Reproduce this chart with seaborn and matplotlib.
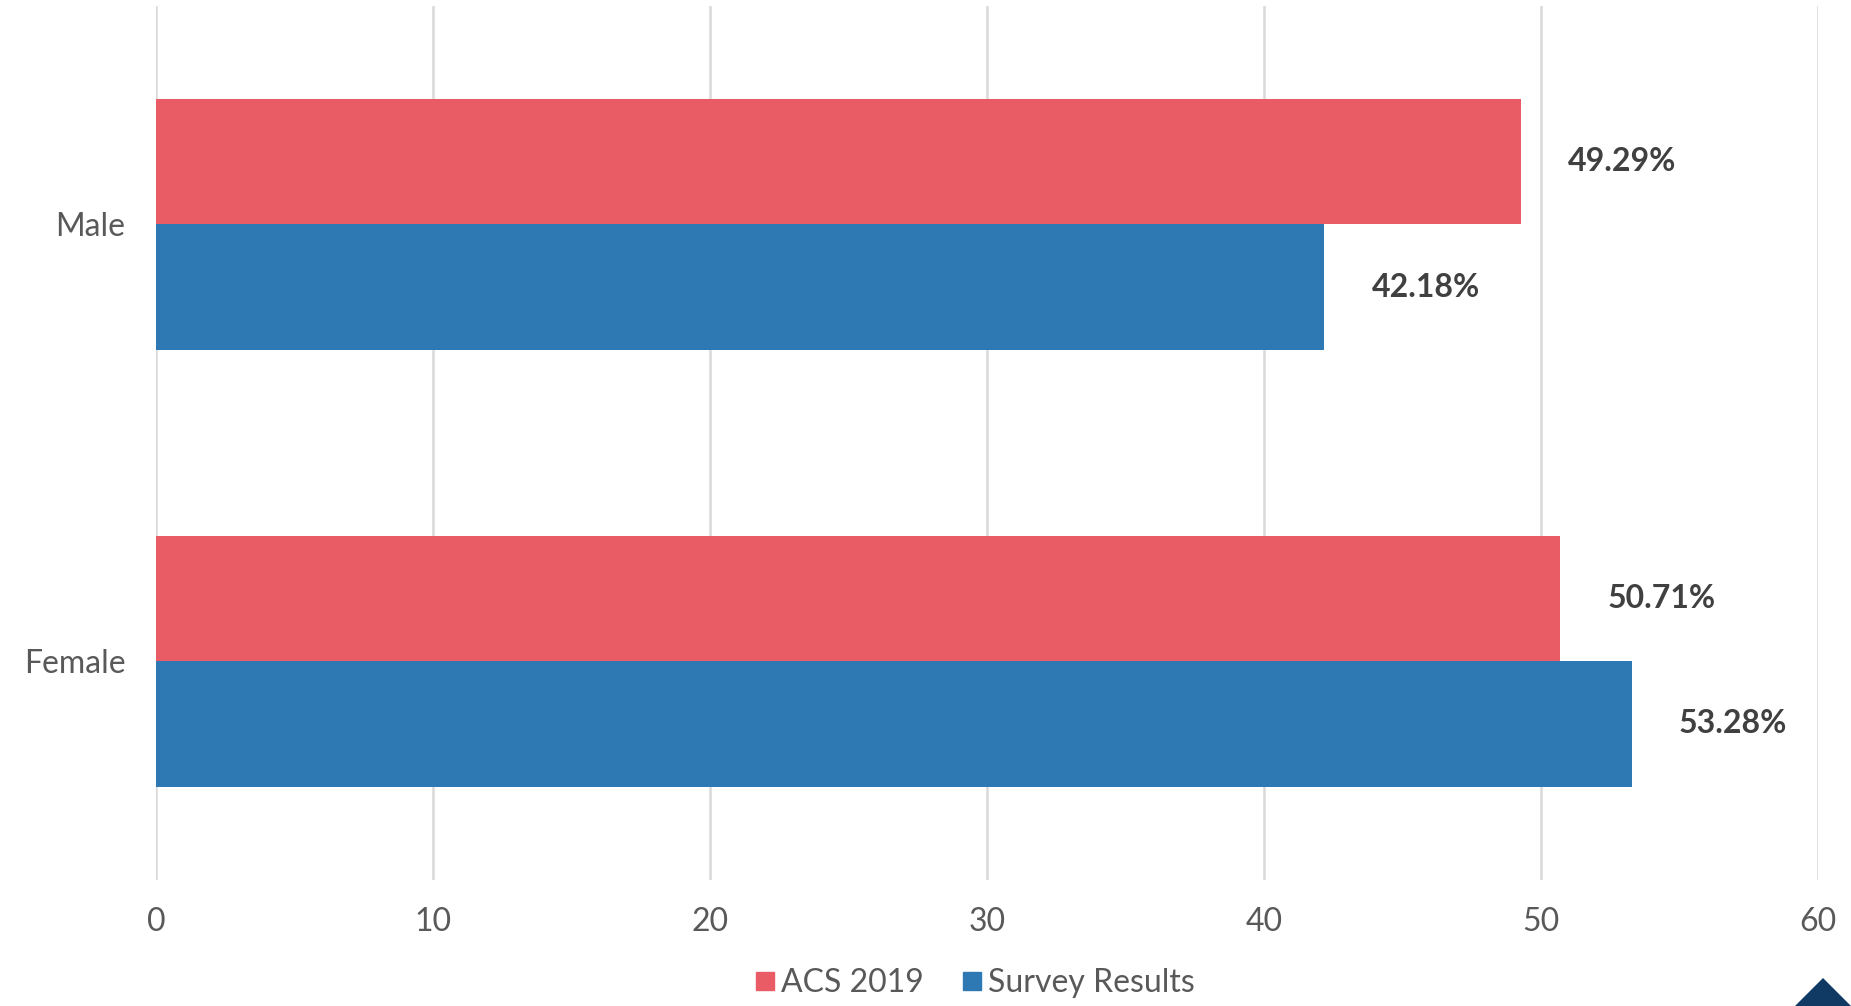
import matplotlib
matplotlib.use("Agg")
import matplotlib.pyplot as plt
from matplotlib.lines import Line2D
from matplotlib.patches import Polygon
import seaborn as sns
import pandas as pd

categories = ["Male", "Female"]
series_names = ["ACS 2019", "Survey Results"]
acs_2019 = [49.29, 50.71]
survey_results = [42.18, 53.28]
x_ticks = [0, 10, 20, 30, 40, 50, 60]

colors = ["#E95C66", "#2E79B4"]
text_grey = "#595959"
label_grey = "#404040"

df = pd.DataFrame({
    "category": categories * 2,
    "series": [series_names[0]] * 2 + [series_names[1]] * 2,
    "value": acs_2019 + survey_results,
})

sns.set_style("white")
plt.rcParams["font.family"] = ["Lato", "DejaVu Sans"]

fig = plt.figure(figsize=(18.51, 10.06), dpi=100)
ax = fig.add_axes([0.0843, 0.1257, 0.8977, 0.8683])

sns.barplot(data=df, x="value", y="category", hue="series", orient="h",
            order=categories, hue_order=series_names, palette=colors,
            width=0.575, gap=0, saturation=1, errorbar=None, legend=False,
            linewidth=0, ax=ax)

for cont in ax.containers:
    ax.bar_label(cont, labels=[f"{b.get_width():.2f}%" for b in cont],
                 padding=34, fontsize=23, fontweight="bold", color=label_grey)

ax.set_xlim(0, 60)
ax.set_ylim(1.5, -0.5)
ax.set_xticks(x_ticks)
ax.set_xticklabels([str(t) for t in x_ticks])
ax.grid(axis="x", color="#D9D9D9", linewidth=1.8)
ax.set_axisbelow(True)
for s in ax.spines.values():
    s.set_visible(False)
ax.tick_params(axis="both", length=0, labelsize=23, labelcolor=text_grey)
ax.tick_params(axis="y", pad=22)
ax.tick_params(axis="x", pad=20)
ax.set_xlabel("")
ax.set_ylabel("")

handles = [Line2D([], [], marker="s", linestyle="", markersize=13,
                  markerfacecolor=c, markeredgecolor=c) for c in colors]
fig.legend(handles, series_names, loc="center", bbox_to_anchor=(0.526, 0.023),
           ncol=2, frameon=False, fontsize=23, labelcolor=text_grey,
           handletextpad=0.1, columnspacing=1.1, handlelength=0.8)

# small navy corner mark
fig.patches.append(Polygon([(1795 / 1851, 0), (1851 / 1851, 0), (1823 / 1851, 28 / 1006)],
                           closed=True, transform=fig.transFigure,
                           facecolor="#103A63", edgecolor="none"))

fig.savefig("out.png", dpi=100)
